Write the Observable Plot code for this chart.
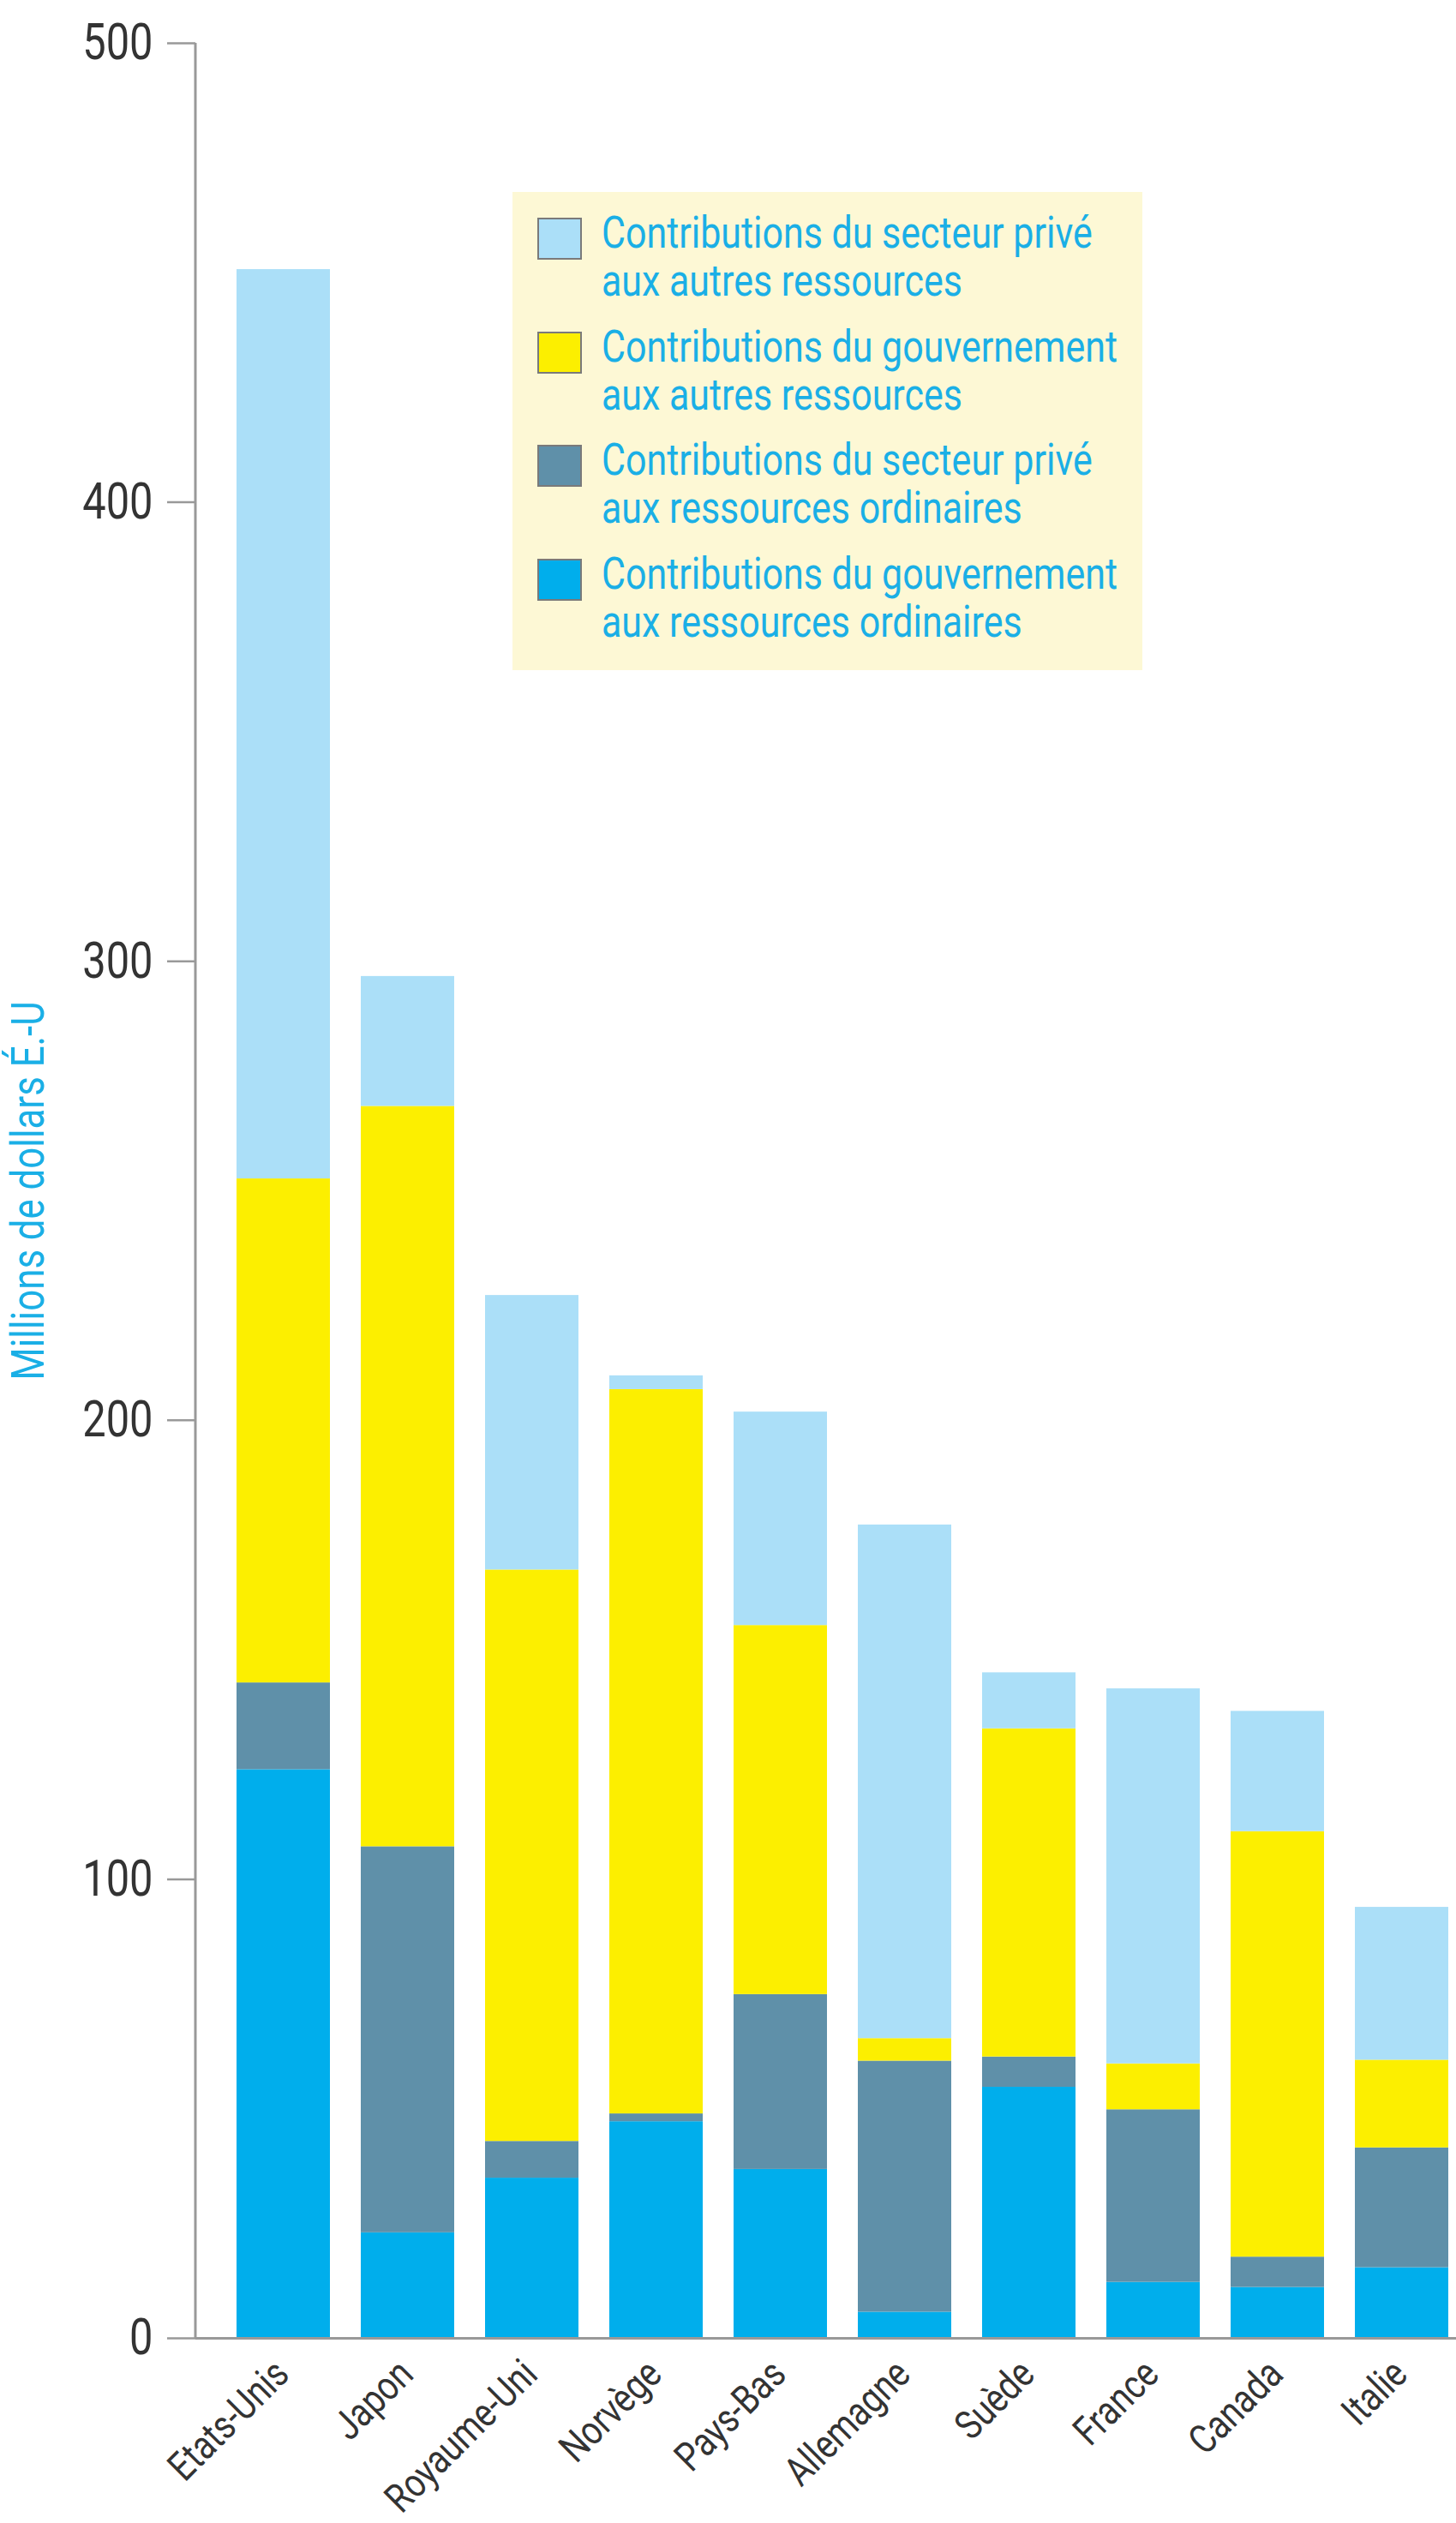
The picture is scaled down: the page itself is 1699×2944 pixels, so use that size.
<!DOCTYPE html>
<html>
<head>
<meta charset="utf-8">
<script src="https://cdn.jsdelivr.net/npm/d3@7"></script>
<script src="https://cdn.jsdelivr.net/npm/@observablehq/plot@0.6"></script>
<style>
  html, body { margin: 0; padding: 0; background: #fff; }
  #wrap { position: relative; width: 1699px; height: 2944px; font-family: Roboto, sans-serif; }
  #legend { position: absolute; left: 598px; top: 224px; width: 735px; height: 558px; background: #fdf8d5; }
  .item { position: absolute; left: 0; width: 735px; }
  .sw { position: absolute; left: 29px; width: 48px; height: 45px; border: 2px solid #7a7a7a; }
  .lab { position: absolute; left: 104px; font-size: 52px; line-height: 56px; color: #1aafe6; white-space: nowrap; transform-origin: 0 0; }
</style>
</head>
<body>
<div id="wrap"><div id="chart"></div><div id="legend"></div></div>
<script>
const countries = ["Etats-Unis", "Japon", "Royaume-Uni", "Norvège", "Pays-Bas", "Allemagne", "Suède", "France", "Canada", "Italie"];
const seriesNames = [
  "Contributions du gouvernement aux ressources ordinaires",
  "Contributions du secteur privé aux ressources ordinaires",
  "Contributions du gouvernement aux autres ressources",
  "Contributions du secteur privé aux autres ressources"
];
const legendLines = [
  ["Contributions du secteur privé", "aux autres ressources"],
  ["Contributions du gouvernement", "aux autres ressources"],
  ["Contributions du secteur privé", "aux ressources ordinaires"],
  ["Contributions du gouvernement", "aux ressources ordinaires"]
];
const govOrdinaires   = [123.9, 23.0, 34.9, 47.2, 36.8, 5.7, 54.7, 12.2, 11.1, 15.4];
const priveOrdinaires = [18.9, 84.1, 8.0, 1.7, 38.1, 54.7, 6.6, 37.6, 6.6, 26.1];
const govAutres       = [109.8, 161.3, 124.5, 157.8, 80.4, 4.9, 71.5, 10.0, 92.7, 19.1];
const priveAutres     = [198.1, 28.3, 59.8, 3.0, 46.5, 111.9, 12.2, 81.7, 26.2, 33.3];
const colors = ["#00aeec", "#5f90a9", "#fcef00", "#abdff8"];
const yTicks = [0, 100, 200, 300, 400, 500];
const yTitle = "Millions de dollars É.-U";

const seriesValues = [govOrdinaires, priveOrdinaires, govAutres, priveAutres];
const data = [];
seriesValues.forEach((vals, s) => vals.forEach((v, i) => data.push({country: countries[i], series: seriesNames[s], value: v})));

const font = 'Roboto, sans-serif';

// horizontal condensing factor so that Roboto matches the reference's condensed face
const ctx = document.createElement("canvas").getContext("2d");
ctx.font = "52px Roboto";
const condense = 602 / ctx.measureText("Contributions du gouvernement").width;

const chart = Plot.plot({
  width: 1699,
  height: 2944,
  marginLeft: 228,
  marginRight: 0,
  marginTop: 50,
  marginBottom: 216,
  style: {fontFamily: font, background: "#fff"},
  x: {domain: countries, paddingInner: 0.251, paddingOuter: 0.177, align: 0.83, axis: null},
  y: {domain: [0, 500], axis: null},
  color: {domain: seriesNames, range: colors},
  marks: [
    Plot.barY(data, {x: "country", y: "value", fill: "series", order: seriesNames}),
    Plot.ruleY([0], {stroke: "#999", strokeWidth: 3}),
    Plot.axisY({ticks: yTicks, tickSize: 33, tickPadding: 17, fontSize: 59, stroke: "#999", strokeWidth: 2.5, fill: "#333", label: null}),
    Plot.axisX({tickSize: 0, tickRotate: -45, tickPadding: 34, dx: -2, fontSize: 47, fill: "#333", label: null}),
    Plot.text([yTitle], {frameAnchor: "left", dx: -178, rotate: -90, textAnchor: "middle", lineAnchor: "bottom", fontSize: 53, fill: "#1aafe6", text: d => d})
  ]
});
document.getElementById("chart").appendChild(chart);

// y axis line, drawn along the y scale's range at the x scale's start
const xr = chart.scale("x").range, yr = chart.scale("y").range;
d3.select(chart).append("line")
  .attr("x1", xr[0]).attr("x2", xr[0])
  .attr("y1", yr[0]).attr("y2", yr[1])
  .attr("stroke", "#999").attr("stroke-width", 3);
d3.select(chart).selectAll('g[aria-label="y-axis tick"] path, g[aria-label="y-axis tick"] line')
  .attr("stroke-width", 2.5).attr("stroke", "#999");

// condense all SVG texts
chart.querySelectorAll("text").forEach(t => {
  const L = t.getComputedTextLength();
  if (L > 0) {
    t.setAttribute("textLength", L * condense);
    t.setAttribute("lengthAdjust", "spacingAndGlyphs");
  }
});

const legend = document.getElementById("legend");
const legendColors = [colors[3], colors[2], colors[1], colors[0]];
legendLines.forEach((lines, i) => {
  const item = document.createElement("div");
  item.className = "item";
  item.style.top = (30 + i * 132.5) + "px";
  const sw = document.createElement("div");
  sw.className = "sw";
  sw.style.top = "0px";
  sw.style.background = legendColors[i];
  const lab = document.createElement("div");
  lab.className = "lab";
  lab.style.top = "-10px";
  lab.style.transform = `scaleX(${condense})`;
  lab.innerHTML = lines.join("<br>");
  item.appendChild(sw);
  item.appendChild(lab);
  legend.appendChild(item);
});
</script>
</body>
</html>
